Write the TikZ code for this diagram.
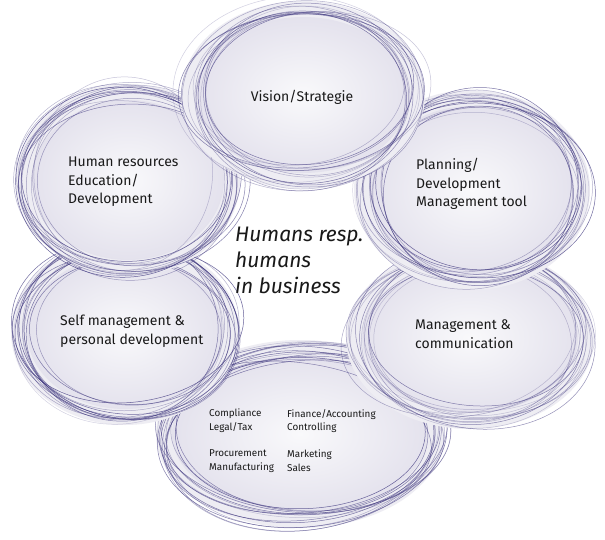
\documentclass[tikz,border=0pt]{standalone}
\usepackage{fontspec}
\setmainfont{Fira Sans}
\definecolor{scrib}{RGB}{60,52,125}
\definecolor{blobin}{RGB}{228,226,237}
\definecolor{blobout}{RGB}{238,237,243}
\definecolor{blobcore}{RGB}{249,249,251}
\tikzset{
  scribline/.style={draw=scrib, line width=0.5pt},
  lbl/.style={inner sep=0pt, align=left, anchor=west, font=\fontsize{14}{18.5}\selectfont, text=black!90},
  smalllbl/.style={inner sep=0pt, align=left, anchor=west, font=\fontsize{9.9}{13.8}\selectfont, text=black!90},
  centrelbl/.style={inner sep=0pt, align=left, anchor=west, font=\itshape\fontsize{21}{26}\selectfont, text=black!90}
}
\newcommand\drawblob[5]{%
  \pgfmathsetseed{#5}%
  \pgfmathsetmacro\orx{#3+10}\pgfmathsetmacro\ory{#4+10}%
  \fill[blobout] (#1,#2) ellipse [x radius=\orx, y radius=\ory];
  \pgfmathsetmacro\irx{#3-6}\pgfmathsetmacro\iry{#4-6}%
  \shade[inner color=blobcore, outer color=blobin] (#1,#2) ellipse [x radius=\irx, y radius=\iry];
  \foreach \i in {1,...,15}{%
    \pgfmathsetmacro\cx{#1+8*rand}%
    \pgfmathsetmacro\cy{#2+6*rand}%
    \pgfmathsetmacro\rx{#3+13*rand}%
    \pgfmathsetmacro\ry{#4+11*rand}%
    \pgfmathsetmacro\rot{9*rand}%
    \pgfmathsetmacro\op{0.5+0.3*rand}%
    \draw[scribline, draw opacity=\op, rotate around={\rot:(#1,#2)}] (\cx,\cy) ellipse [x radius=\rx, y radius=\ry];
  }%
}
\begin{document}
\begin{tikzpicture}[x=1pt, y=-1pt]
  \useasboundingbox (0,0) rectangle (605,539);
  \fill[white] (0,0) rectangle (605,539);
  % blobs
  \drawblob{300}{434}{134}{84}{11}
  \drawblob{125}{332}{104}{83}{5}
  \drawblob{470}{338}{114}{81}{4}
  \drawblob{128}{180}{102}{86}{6}
  \drawblob{472}{190}{108}{90}{3}
  \drawblob{303}{95}{112}{84}{2}
  % labels
  \node[lbl, anchor=center] (vision) at (302,97) {Vision/Strategie};
  \node[lbl] (planning) at (416,184) {Planning/\\Development\\Management tool};
  \node[lbl] (mgmt) at (415,334) {Management \&\\communication};
  \node[lbl] (hr) at (68,182) {Human resources\\Education/\\Development};
  \node[lbl] (self) at (60,331) {Self management \&\\personal development};
  \node[centrelbl] (centre) at (235,260) {Humans resp.\\humans\\in business};
  \node[smalllbl] (compl) at (209,421) {Compliance\\Legal/Tax};
  \node[smalllbl] (fin) at (287,421) {Finance/Accounting\\Controlling};
  \node[smalllbl] (proc) at (209,461) {Procurement\\Manufacturing};
  \node[smalllbl] (mkt) at (287,461) {Marketing\\Sales};
\end{tikzpicture}
\end{document}
